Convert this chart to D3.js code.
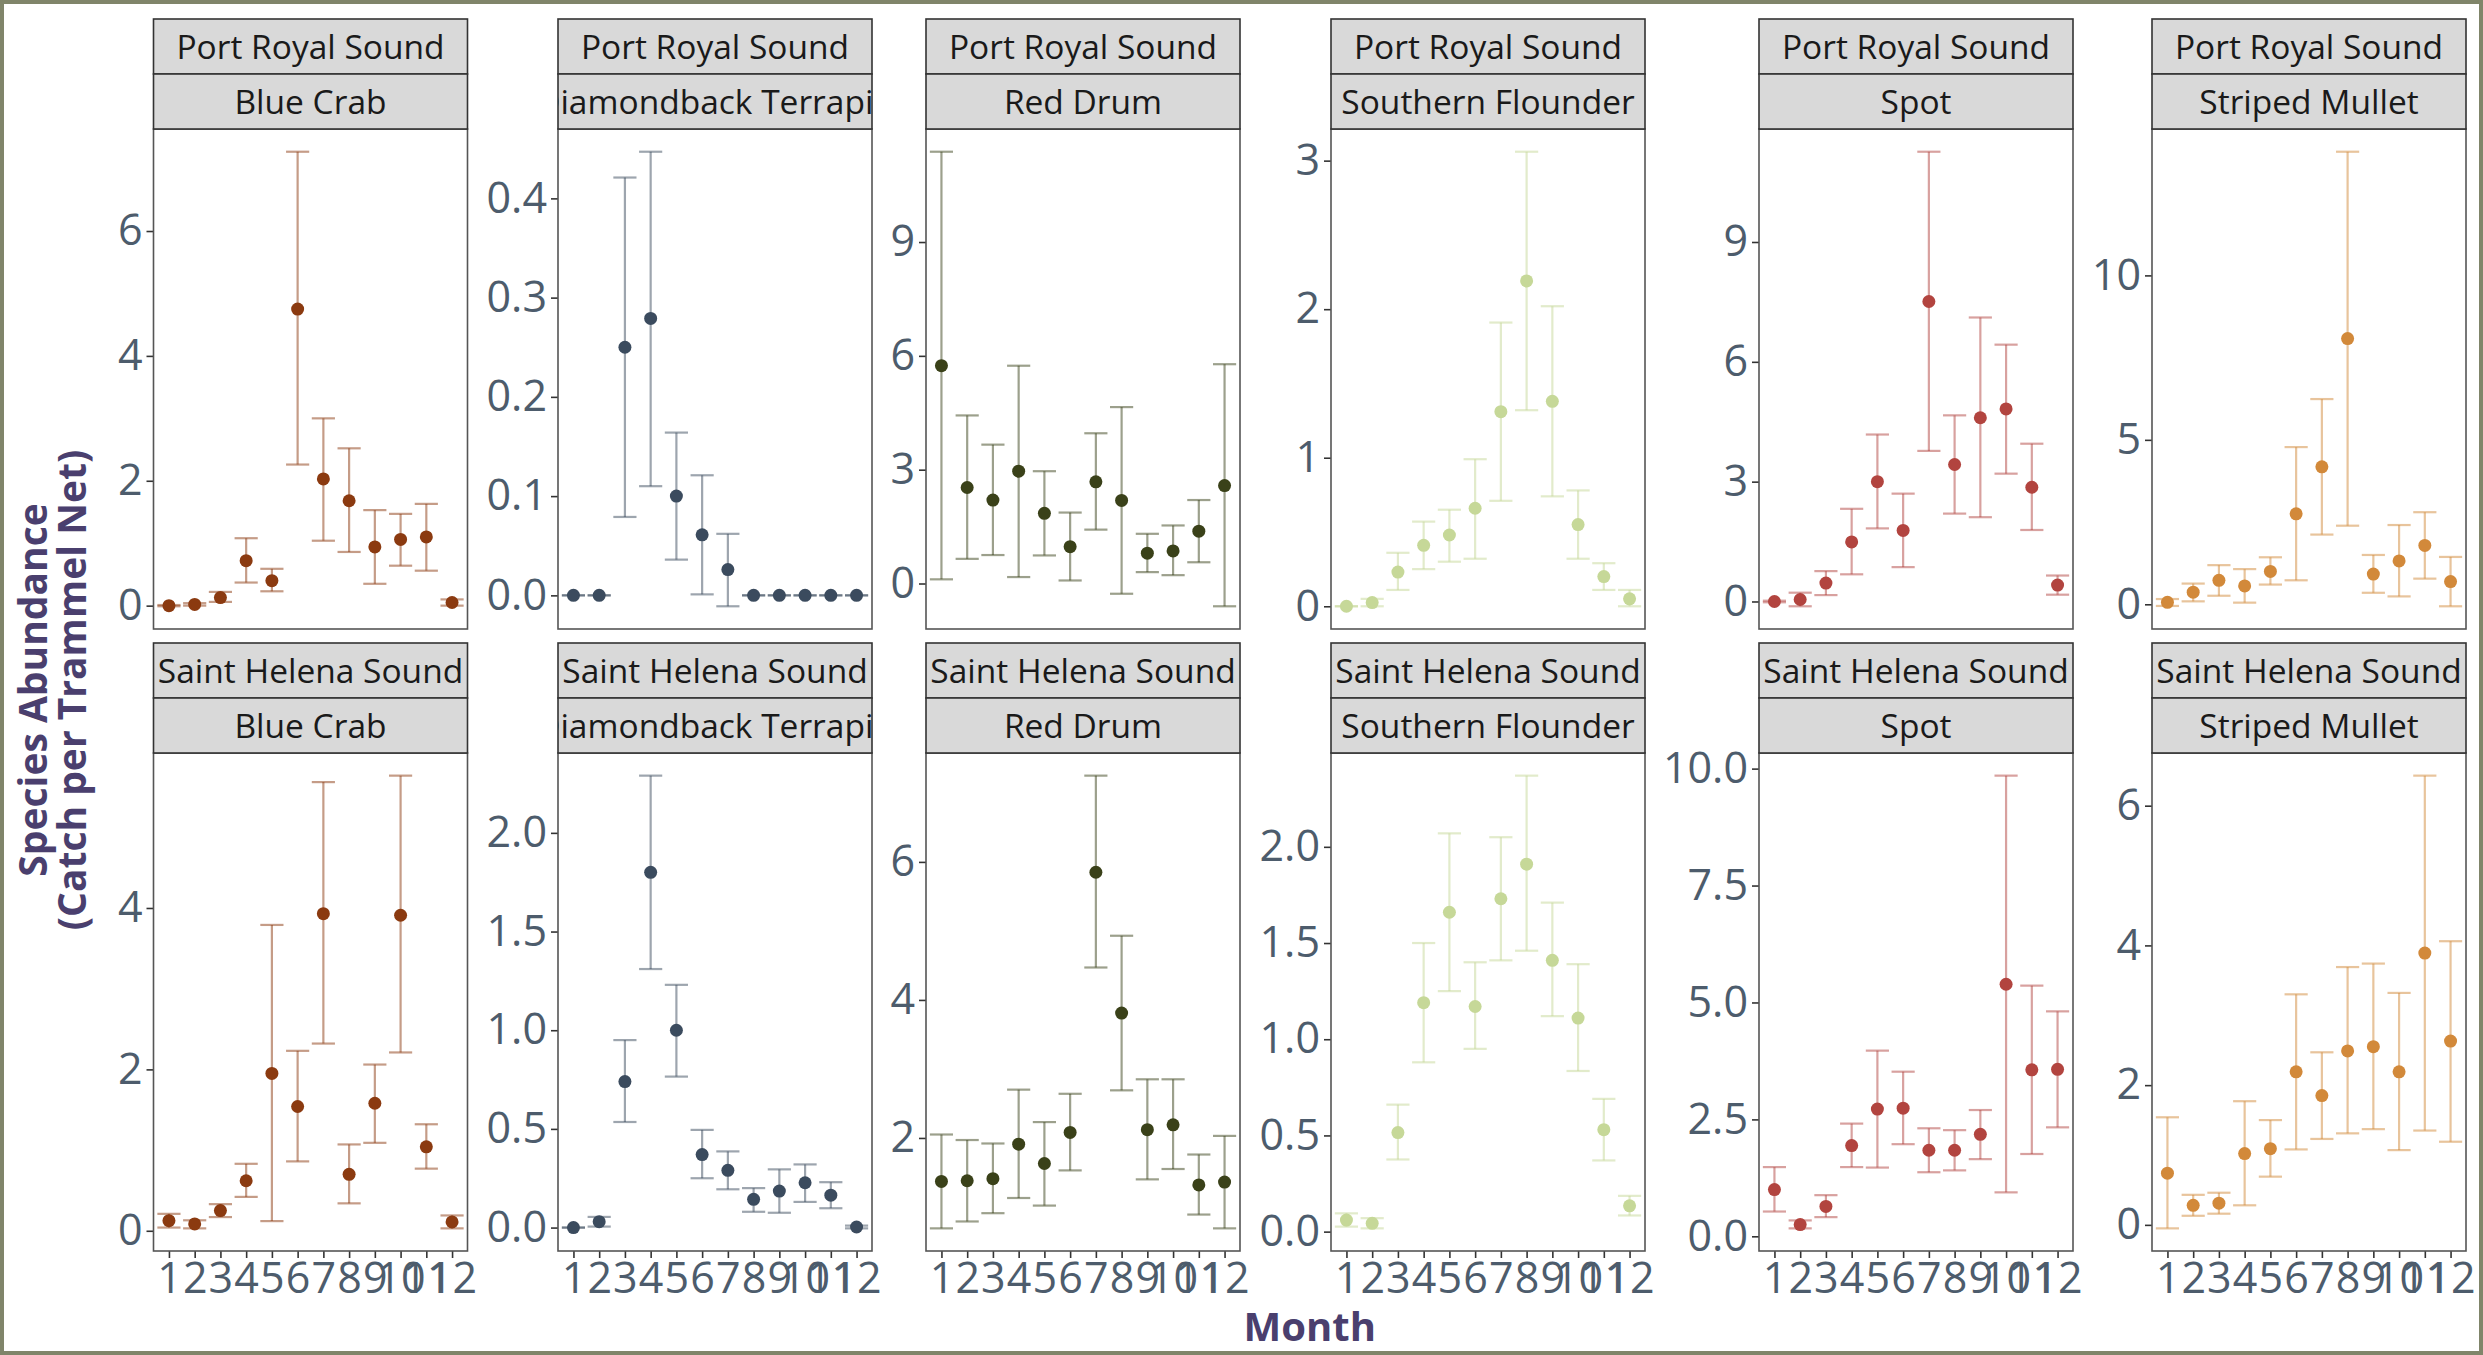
<!DOCTYPE html>
<html>
<head>
<meta charset="utf-8">
<script src="https://cdn.jsdelivr.net/npm/d3@7/dist/d3.min.js"></script>
<style>
  body { margin: 0; background: #fff; }
  svg { display: block; }
</style>
</head>
<body>
<div id="chart"></div>
<script>
// categories
const months = [1, 2, 3, 4, 5, 6, 7, 8, 9, 10, 11, 12];
const sites = ["Port Royal Sound", "Saint Helena Sound"];
const species = ["Blue Crab", "Diamondback Terrapin", "Red Drum", "Southern Flounder", "Spot", "Striped Mullet"];
const speciesColors = ["#8b3a10", "#3b4b5e", "#3a4119", "#c6d898", "#b2443f", "#d2893a"];

// [mean, lower, upper] for each month, Port Royal Sound
const prsBlueCrab = [[0.00,-0.01,0.01],[0.02,0.00,0.04],[0.13,0.06,0.22],[0.72,0.37,1.08],[0.40,0.23,0.59],[4.75,2.26,7.27],[2.03,1.04,3.00],[1.68,0.86,2.52],[0.94,0.35,1.53],[1.06,0.64,1.47],[1.10,0.56,1.63],[0.05,0.00,0.10]];
const prsTerrapin = [[0,0,0],[0,0,0],[0.250,0.079,0.421],[0.279,0.110,0.447],[0.100,0.036,0.164],[0.061,0.001,0.121],[0.026,-0.011,0.062],[0,0,0],[0,0,0],[0,0,0],[0,0,0],[0,0,0]];
const prsRedDrum = [[5.74,0.11,11.38],[2.53,0.65,4.43],[2.20,0.75,3.66],[2.96,0.17,5.74],[1.85,0.74,2.96],[0.97,0.08,1.87],[2.68,1.42,3.96],[2.19,-0.27,4.65],[0.80,0.30,1.31],[0.86,0.22,1.53],[1.38,0.56,2.20],[2.58,-0.60,5.78]];
const prsFlounder = [[0.00,0.00,0.00],[0.025,0.00,0.05],[0.23,0.11,0.36],[0.41,0.25,0.57],[0.48,0.30,0.65],[0.66,0.32,0.99],[1.31,0.71,1.91],[2.19,1.32,3.06],[1.38,0.74,2.02],[0.55,0.32,0.78],[0.20,0.11,0.29],[0.05,0.00,0.11]];
const prsSpot = [[0.00,-0.02,0.02],[0.05,-0.12,0.22],[0.46,0.16,0.76],[1.49,0.68,2.32],[3.00,1.83,4.18],[1.78,0.86,2.70],[7.51,3.77,11.26],[3.43,2.20,4.66],[4.60,2.11,7.11],[4.82,3.20,6.43],[2.86,1.79,3.95],[0.41,0.17,0.65]];
const prsMullet = [[0.06,-0.05,0.16],[0.37,0.09,0.63],[0.73,0.26,1.19],[0.56,0.05,1.07],[1.00,0.60,1.43],[2.75,0.73,4.78],[4.18,2.12,6.24],[8.08,2.39,13.76],[0.92,0.35,1.50],[1.32,0.24,2.41],[1.79,0.78,2.80],[0.69,-0.06,1.44]];

// [mean, lower, upper] for each month, Saint Helena Sound
const shsBlueCrab = [[0.125,0.04,0.21],[0.085,0.03,0.13],[0.25,0.17,0.33],[0.62,0.42,0.83],[1.95,0.12,3.79],[1.54,0.86,2.23],[3.93,2.32,5.56],[0.70,0.34,1.07],[1.58,1.09,2.06],[3.91,2.21,5.64],[1.04,0.77,1.32],[0.11,0.03,0.19]];
const shsTerrapin = [[0,0,0],[0.03,0.005,0.054],[0.74,0.535,0.95],[1.80,1.31,2.29],[1.00,0.765,1.23],[0.37,0.25,0.495],[0.29,0.194,0.386],[0.143,0.08,0.20],[0.185,0.075,0.295],[0.227,0.13,0.32],[0.164,0.098,0.23],[0.003,-0.004,0.01]];
const shsRedDrum = [[1.37,0.69,2.05],[1.38,0.79,1.97],[1.41,0.91,1.92],[1.91,1.13,2.70],[1.63,1.02,2.23],[2.08,1.53,2.64],[5.85,4.47,7.25],[3.81,2.69,4.93],[2.12,1.40,2.85],[2.19,1.55,2.85],[1.32,0.89,1.76],[1.36,0.69,2.03]];
const shsFlounder = [[0.06,0.026,0.095],[0.043,0.017,0.07],[0.515,0.375,0.66],[1.19,0.88,1.50],[1.66,1.25,2.07],[1.17,0.95,1.40],[1.73,1.41,2.05],[1.91,1.46,2.37],[1.41,1.12,1.71],[1.11,0.835,1.39],[0.53,0.37,0.69],[0.134,0.084,0.186]];
const shsSpot = [[1.00,0.53,1.48],[0.25,0.17,0.34],[0.64,0.41,0.88],[1.94,1.48,2.41],[2.72,1.47,3.97],[2.74,1.97,3.52],[1.84,1.37,2.31],[1.84,1.41,2.27],[2.18,1.65,2.70],[5.39,0.94,9.85],[3.56,1.76,5.36],[3.57,2.33,4.81]];
const shsMullet = [[0.74,-0.05,1.54],[0.28,0.13,0.43],[0.31,0.16,0.46],[1.02,0.28,1.77],[1.09,0.69,1.50],[2.19,1.08,3.30],[1.85,1.23,2.47],[2.49,1.31,3.69],[2.55,1.37,3.74],[2.19,1.07,3.32],[3.89,1.35,6.43],[2.63,1.19,4.06]];

// y tick labels per panel
const prsTicks = [[0,2,4,6],[0,0.1,0.2,0.3,0.4],[0,3,6,9],[0,1,2,3],[0,3,6,9],[0,5,10]];
const shsTicks = [[0,2,4],[0,0.5,1,1.5,2],[2,4,6],[0,0.5,1,1.5,2],[0,2.5,5,7.5,10],[0,2,4,6]];
const prsDecimals = [0,1,0,0,0,0];
const shsDecimals = [0,1,0,1,1,0];

const prsData = [prsBlueCrab, prsTerrapin, prsRedDrum, prsFlounder, prsSpot, prsMullet];
const shsData = [shsBlueCrab, shsTerrapin, shsRedDrum, shsFlounder, shsSpot, shsMullet];

// layout
const W = 2483, H = 1355;
const colLeft = [153.5, 558, 926, 1331, 1759, 2152];
const panelW = 314;
const stripTop = [19, 643];
const stripH = 55;
const plotBottom = [629, 1251];
const font = "'Open Sans', 'Noto Sans', sans-serif";
const tickColor = "#4d5c6c";
const titleColor = "#4a3f6e";

const svg = d3.select("#chart")
  .append("svg")
  .attr("width", W)
  .attr("height", H);

svg.append("rect")
  .attr("width", W).attr("height", H)
  .attr("fill", "#fff")
  .attr("stroke", "#80856a")
  .attr("stroke-width", 8);

const defs = svg.append("defs");

sites.forEach(function (site, r) {
  const rowData = r === 0 ? prsData : shsData;
  const rowTicks = r === 0 ? prsTicks : shsTicks;
  const rowDec = r === 0 ? prsDecimals : shsDecimals;
  const top = stripTop[r] + stripH * 2;
  const h = plotBottom[r] - top;

  species.forEach(function (sp, c) {
    const data = rowData[c];
    const color = speciesColors[c];
    const g = svg.append("g")
      .attr("transform", `translate(${colLeft[c]}, ${top})`);

    const x = d3.scalePoint()
      .domain(months)
      .range([0, panelW])
      .padding(0.6);

    // ggplot-like 5% expansion of the data range
    const lo = d3.min(data, d => Math.min(d[0], d[1]));
    const hi = d3.max(data, d => Math.max(d[0], d[2]));
    const pad = (hi - lo) * 0.05;
    const y = d3.scaleLinear()
      .domain([lo - pad, hi + pad])
      .range([h, 0]);

    g.append("rect")
      .attr("width", panelW).attr("height", h)
      .attr("fill", "#fff");

    // y axis
    const yAxis = g.append("g")
      .call(d3.axisLeft(y)
        .tickValues(rowTicks[c])
        .tickSize(7)
        .tickPadding(4)
        .tickFormat(d3.format(`.${rowDec[c]}f`)));
    yAxis.select(".domain").remove();
    yAxis.selectAll(".tick line").attr("stroke", "#333").attr("stroke-width", 1.6);
    yAxis.selectAll("text")
      .attr("fill", tickColor)
      .style("font-family", font)
      .style("font-size", "43px");

    // x axis only on the bottom row
    if (r === 1) {
      const xAxis = g.append("g")
        .attr("transform", `translate(0, ${h})`)
        .call(d3.axisBottom(x).tickSize(7).tickPadding(4));
      xAxis.select(".domain").remove();
      xAxis.selectAll(".tick line").attr("stroke", "#333").attr("stroke-width", 1.6);
      xAxis.selectAll("text")
        .attr("fill", tickColor)
        .style("font-family", font)
        .style("font-size", "43px");
    }

    const cap = x.step() * 0.45;
    const bars = g.append("g")
      .attr("stroke", color)
      .attr("stroke-opacity", 0.5)
      .attr("stroke-width", 2.2);

    bars.selectAll(".stem")
      .data(data)
      .join("line")
      .attr("x1", (d, i) => x(months[i]))
      .attr("x2", (d, i) => x(months[i]))
      .attr("y1", d => y(d[1]))
      .attr("y2", d => y(d[2]));

    bars.selectAll(".capHi")
      .data(data)
      .join("line")
      .attr("x1", (d, i) => x(months[i]) - cap)
      .attr("x2", (d, i) => x(months[i]) + cap)
      .attr("y1", d => y(d[2]))
      .attr("y2", d => y(d[2]));

    bars.selectAll(".capLo")
      .data(data)
      .join("line")
      .attr("x1", (d, i) => x(months[i]) - cap)
      .attr("x2", (d, i) => x(months[i]) + cap)
      .attr("y1", d => y(d[1]))
      .attr("y2", d => y(d[1]));

    g.append("g")
      .selectAll("circle")
      .data(data)
      .join("circle")
      .attr("cx", (d, i) => x(months[i]))
      .attr("cy", d => y(d[0]))
      .attr("r", 6.5)
      .attr("fill", color);

    g.append("rect")
      .attr("width", panelW).attr("height", h)
      .attr("fill", "none")
      .attr("stroke", "#555")
      .attr("stroke-width", 1.6);

    // the two strips: site on top, species below
    [site, sp].forEach(function (label, k) {
      const sy = stripTop[r] + k * stripH;
      const id = `clip-${r}-${c}-${k}`;
      defs.append("clipPath").attr("id", id)
        .append("rect")
        .attr("x", colLeft[c]).attr("y", sy)
        .attr("width", panelW).attr("height", stripH);

      svg.append("rect")
        .attr("x", colLeft[c]).attr("y", sy)
        .attr("width", panelW).attr("height", stripH)
        .attr("fill", "#d9d9d9")
        .attr("stroke", "#333")
        .attr("stroke-width", 1.6);

      svg.append("text")
        .attr("clip-path", `url(#${id})`)
        .attr("x", colLeft[c] + panelW / 2)
        .attr("y", sy + stripH / 2)
        .attr("dy", "0.36em")
        .attr("text-anchor", "middle")
        .attr("fill", "#1a1a1a")
        .style("font-family", font)
        .style("font-size", "33.5px")
        .text(label);
    });
  });
});

// axis titles
const yTitle = svg.append("text")
  .attr("transform", "translate(52, 690) rotate(-90)")
  .attr("text-anchor", "middle")
  .attr("fill", titleColor)
  .style("font-family", font)
  .style("font-size", "39px")
  .style("font-weight", "bold");
yTitle.append("tspan").attr("x", 0).attr("dy", "-0.12em").text("Species Abundance");
yTitle.append("tspan").attr("x", 0).attr("dy", "0.98em").text("(Catch per Trammel Net)");

svg.append("text")
  .attr("x", (colLeft[0] + colLeft[5] + panelW) / 2)
  .attr("y", 1341)
  .attr("text-anchor", "middle")
  .attr("fill", titleColor)
  .style("font-family", font)
  .style("font-size", "40px")
  .style("font-weight", "bold")
  .text("Month");
</script>
</body>
</html>
